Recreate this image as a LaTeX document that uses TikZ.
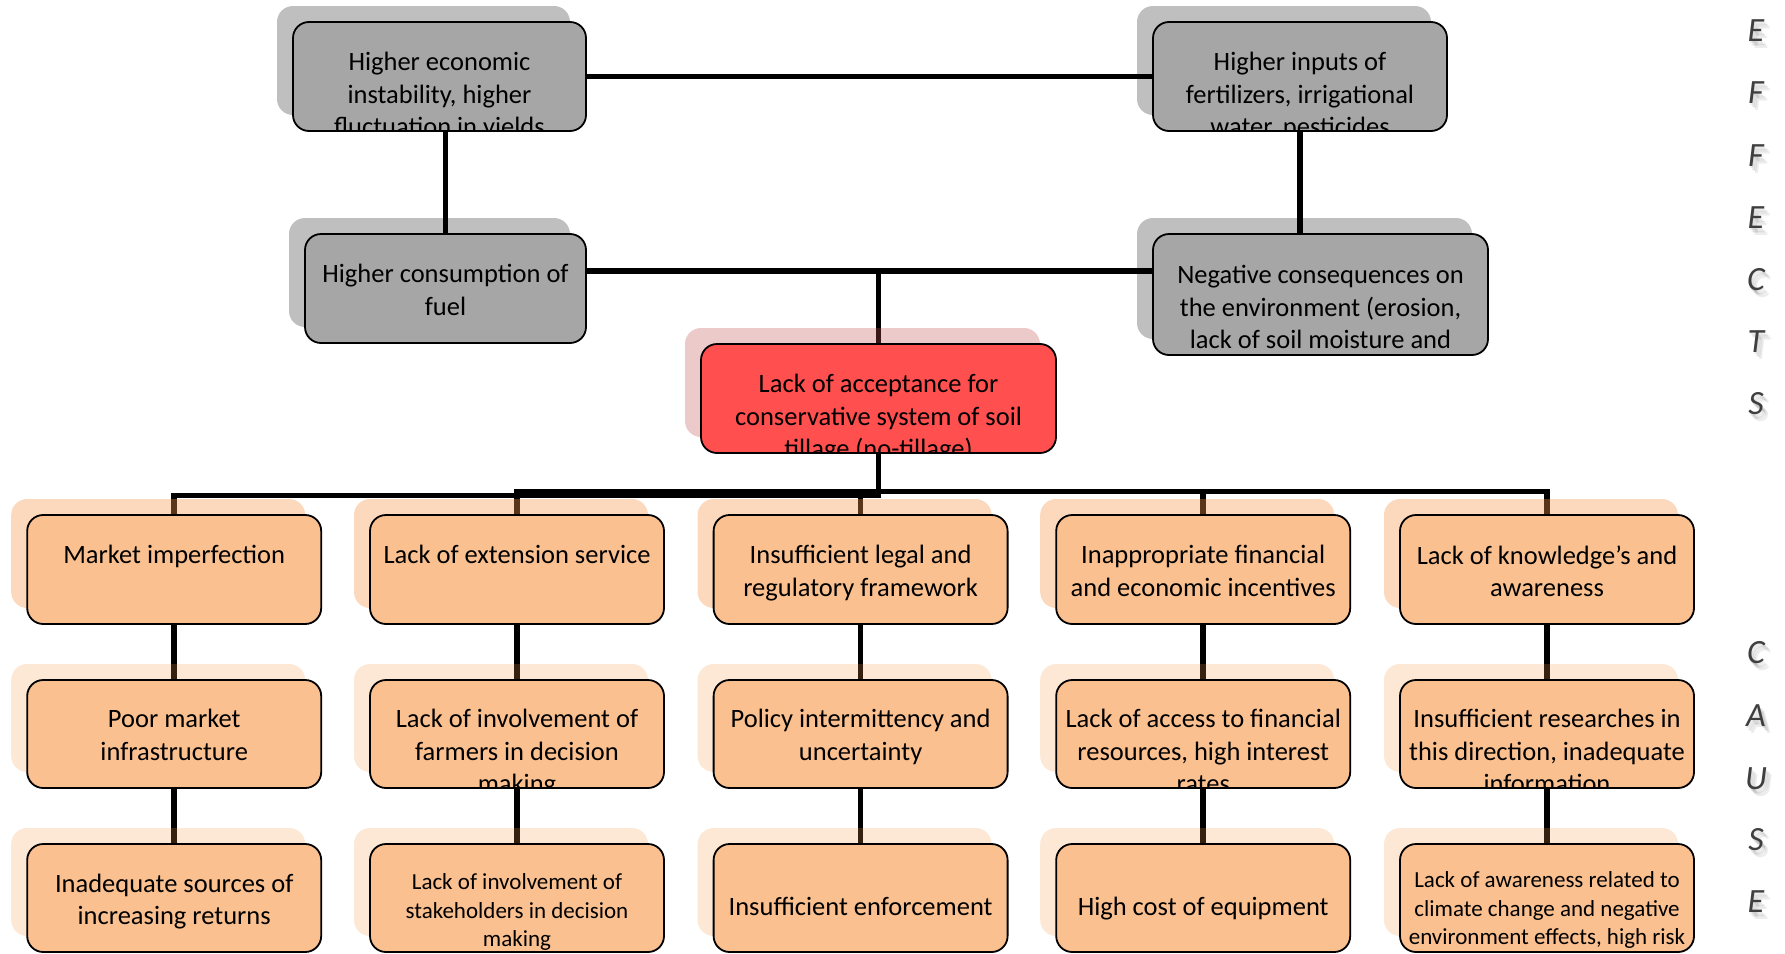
\documentclass[tikz,border=0pt]{standalone}
\usepackage{fontspec}
\setmainfont{Carlito}
\pgfdeclarelayer{links}
\pgfdeclarelayer{shades}
\pgfsetlayers{links,shades,main}

\definecolor{effgray}{HTML}{A6A6A6}
\definecolor{rootred}{HTML}{FF4F4F}
\definecolor{rootshade}{HTML}{C0504D}
\definecolor{causeorange}{HTML}{FAC090}
\definecolor{causeshade}{HTML}{F79646}
\definecolor{lettergray}{HTML}{3F3F3F}

% soft drop shade behind a box, moved up and left
\newcommand\dropshade[2]{%
  \fill[#2, rounded corners=16pt]
    ([shift={(-16,-16)}]#1.north west) rectangle ([shift={(-16,-16)}]#1.south east);}

% text of a box, cut off at the box outline
\newcommand\boxlabel[5]{% box, name, style, position, text
  \begin{scope}
    \clip[rounded corners=16pt] (#1.north west) rectangle (#1.south east);
    \node[#3] (#2) at (#4) {#5};
  \end{scope}}

\begin{document}
\begin{tikzpicture}[x=1pt, y=-1pt,
  every node/.style={inner sep=0pt, outer sep=0pt},
  link/.style={line width=5.5pt, draw=black},
  card/.style={rectangle, rounded corners=16pt, draw=black, line width=1.8pt,
    minimum width=294pt, minimum height=109pt},
  effectbox/.style={card, fill=effgray},
  rootbox/.style={card, fill=rootred},
  causebox/.style={card, fill=causeorange},
  boxtext/.style={align=center, font=\fontsize{26.5}{32.5}\selectfont,
    execute at begin node=\rule{0pt}{23.5pt},
    execute at end node=\rule[-6pt]{0pt}{6pt}},
  smalltext/.style={align=center, font=\fontsize{23}{28.5}\selectfont,
    execute at begin node=\rule{0pt}{21pt},
    execute at end node=\rule[-5.8pt]{0pt}{5.8pt}},
  sideletter/.style={font=\fontsize{34}{34}\selectfont\itshape, text=lettergray},
  sideglow/.style={font=\fontsize{34}{34}\selectfont\itshape, text=black, opacity=0.07},
]
\useasboundingbox (0,0) rectangle (1785,953);

% ---------- effects ----------
\node[effectbox, minimum width=293pt] (e1) at (439.5,76.5) {};
\node[effectbox] (e2) at (1300,76.5) {};
\node[effectbox, minimum width=281pt] (e3) at (445.5,288.5) {};
\node[effectbox, minimum width=335pt, minimum height=121pt] (e4) at (1320.5,294.5) {};

% ---------- core problem ----------
\node[rootbox, minimum width=355pt] (r) at (878.5,398.5) {};

% ---------- causes ----------
\foreach \k/\cx in {1/174.2, 2/517, 3/860.6, 4/1203.2, 5/1547} {
  \node[causebox] (c\k) at (\cx,569.5) {};
  \node[causebox, minimum height=108pt] (d\k) at (\cx,734) {};
  \node[causebox, minimum height=108pt] (f\k) at (\cx,898) {};
}

\coordinate (hub) at (878.5,271);
\coordinate (busA) at (878.5,495.5);
\coordinate (busB) at (878.5,491.5);

% ---------- connectors ----------
\begin{pgfonlayer}{links}
  \draw[link] (e1.east) -- (e2.west);
  \draw[link] (e1.south -| e3.north) -- (e3.north);
  \draw[link] (e2.south) -- (e2.south |- e4.north);
  \draw[link] (e3.east |- hub) -- (e4.west |- hub);
  \draw[link] (hub) -- (r.north);
  \draw[link] (r.south) -- (busA) -| (c1.north);
  \foreach \k in {2,...,5} {\draw[link] (r.south) -- (busB) -| (c\k.north);}
  \foreach \k in {1,...,5} {
    \draw[link] (c\k.south) -- (d\k.north);
    \draw[link] (d\k.south) -- (f\k.north);
  }
\end{pgfonlayer}

% ---------- shades ----------
\begin{pgfonlayer}{shades}
  \foreach \b in {e1,e2,e3,e4} {\dropshade{\b}{black, opacity=0.25}}
  \dropshade{r}{rootshade, opacity=0.3}
  \foreach \k in {1,...,5} {
    \dropshade{c\k}{causeshade, opacity=0.36}
    \dropshade{d\k}{causeshade, opacity=0.22}
    \dropshade{f\k}{causeshade, opacity=0.22}
  }
\end{pgfonlayer}

% ---------- texts ----------
\boxlabel{e1}{te1}{boxtext}{439.5,97}{Higher economic\\instability, higher\\fluctuation in yields}
\boxlabel{e2}{te2}{boxtext}{1300,97}{Higher inputs of\\fertilizers, irrigational\\water, pesticides}
\boxlabel{e3}{te3}{boxtext}{445.5,293}{Higher consumption of\\fuel}
\boxlabel{e4}{te4}{boxtext}{1320.5,310}{Negative consequences on\\the environment (erosion,\\lack of soil moisture and}
\boxlabel{r}{tr}{boxtext}{878.5,419}{Lack of acceptance for\\conservative system of soil\\tillage (no-tillage)}

\boxlabel{c1}{tc1}{boxtext}{174.2,555}{Market imperfection}
\boxlabel{c2}{tc2}{boxtext}{517,555}{Lack of extension service}
\boxlabel{c3}{tc3}{boxtext}{860.6,574}{Insufficient legal and\\regulatory framework}
\boxlabel{c4}{tc4}{boxtext}{1203.2,574}{Inappropriate financial\\and economic incentives}
\boxlabel{c5}{tc5}{boxtext}{1547,574}{Lack of knowledge’s and\\awareness}

\boxlabel{d1}{td1}{boxtext}{174.2,738}{Poor market\\infrastructure}
\boxlabel{d2}{td2}{boxtext}{517,754}{Lack of involvement of\\farmers in decision\\making}
\boxlabel{d3}{td3}{boxtext}{860.6,738}{Policy intermittency and\\uncertainty}
\boxlabel{d4}{td4}{boxtext}{1203.2,754}{Lack of access to financial\\resources, high interest\\rates}
\boxlabel{d5}{td5}{boxtext}{1547,754}{Insufficient researches in\\this direction, inadequate\\information}

\boxlabel{f1}{tf1}{boxtext}{174.2,902.5}{Inadequate sources of\\increasing returns}
\boxlabel{f2}{tf2}{smalltext}{517,913}{Lack of involvement of\\stakeholders in decision\\making}
\boxlabel{f3}{tf3}{boxtext}{860.6,907}{Insufficient enforcement}
\boxlabel{f4}{tf4}{boxtext}{1203.2,907}{High cost of equipment}
\boxlabel{f5}{tf5}{smalltext}{1547,911}{Lack of awareness related to\\climate change and negative\\environment effects, high risk}

% ---------- side captions, each with a soft blurred shade ----------
\foreach \ch/\yy [count=\i] in {E/31,F/93,F/156,E/218,C/280,T/342,S/404,C/653,A/716,U/779,S/840,E/902} {
  \node[sideglow] (glowa\i) at (1757,\yy+2) {\ch};
  \node[sideglow] (glowb\i) at (1758.5,\yy+3.5) {\ch};
  \node[sideglow] (glowc\i) at (1760,\yy+5) {\ch};
  \node[sideglow] (glowd\i) at (1761.5,\yy+6.5) {\ch};
  \node[sideletter] (side\i) at (1756,\yy) {\ch};
}
\end{tikzpicture}
\end{document}
